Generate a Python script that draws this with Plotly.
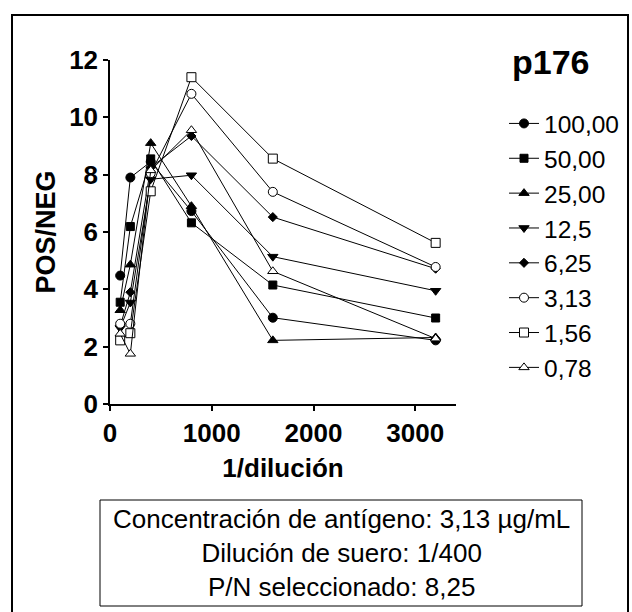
import plotly.graph_objects as go

# ---- data ----
x_dil = [100, 200, 400, 800, 1600, 3200]
series_names = ["100,00", "50,00", "25,00", "12,5", "6,25", "3,13", "1,56", "0,78"]
s100 = [4.48, 7.90, 8.45, 6.73, 3.01, 2.22]
s50 = [3.55, 6.19, 8.55, 6.32, 4.15, 3.00]
s25 = [3.27, 4.86, 9.10, 6.90, 2.22, 2.32]
s12_5 = [2.65, 3.54, 7.84, 7.98, 5.14, 3.95]
s6_25 = [2.72, 3.90, 8.25, 9.35, 6.52, 4.72]
s3_13 = [2.80, 2.80, 8.05, 10.82, 7.40, 4.78]
s1_56 = [2.22, 2.47, 7.42, 11.40, 8.56, 5.62]
s0_78 = [2.45, 1.75, 8.15, 9.55, 4.63, 2.28]
series_values = [s100, s50, s25, s12_5, s6_25, s3_13, s1_56, s0_78]
x_ticks = [0, 1000, 2000, 3000]
y_ticks = [0, 2, 4, 6, 8, 10, 12]
info_lines = ["Concentración de antígeno: 3,13 µg/mL",
              "Dilución de suero: 1/400",
              "P/N seleccionado: 8,25"]

# ---- styles ----
symbols = ["circle", "square", "triangle-up", "triangle-down", "diamond",
           "circle", "square", "triangle-up"]
fills = ["black"] * 5 + ["white"] * 3
sizes = [9, 8, 9, 9, 7, 9, 9, 9]

W, H = 632, 612
L, R, T, B = 110, 176, 60, 208
PW, PH = W - L - R, H - T - B


def px(xp):
    return (xp - L) / PW


def py(yp):
    return (H - B - yp) / PH


FONT = "Liberation Sans, Arial, sans-serif"

fig = go.Figure()
for i, (name, vals) in enumerate(zip(series_names, series_values)):
    fig.add_trace(go.Scatter(
        x=x_dil, y=vals, name=name, mode="lines+markers",
        line=dict(color="black", width=1),
        marker=dict(symbol=symbols[i], size=sizes[i], color=fills[i],
                    line=dict(color="black", width=1)),
    ))

fig.update_layout(
    width=W, height=H,
    margin=dict(l=L, r=R, t=T, b=B, autoexpand=False),
    paper_bgcolor="white", plot_bgcolor="white",
    showlegend=True,
    legend=dict(
        x=px(504), y=py(101), xanchor="left", yanchor="top",
        bgcolor="rgba(0,0,0,0)", borderwidth=0,
        font=dict(family=FONT, size=24.5, color="black"),
        itemwidth=30, tracegroupgap=0,
    ),
    font=dict(family=FONT, color="black"),
    xaxis=dict(
        range=[0, 3400], tickvals=x_ticks, ticktext=[str(v) for v in x_ticks],
        showgrid=False, zeroline=False, showline=True, linecolor="black",
        linewidth=1.5, ticks="outside", ticklen=5, tickwidth=1.5,
        tickcolor="black",
        tickfont=dict(family=FONT, size=26, color="black", weight="bold"),
        title=dict(text="1/dilución", standoff=12,
                   font=dict(family=FONT, size=26, color="black", weight="bold")),
    ),
    yaxis=dict(
        range=[0, 12], tickvals=y_ticks, ticktext=[str(v) for v in y_ticks],
        showgrid=False, zeroline=False, showline=True, linecolor="black",
        linewidth=1.5, ticks="outside", ticklen=5, tickwidth=1.5,
        tickcolor="black",
        tickfont=dict(family=FONT, size=26, color="black", weight="bold"),
        title=dict(text="POS/NEG", standoff=6,
                   font=dict(family=FONT, size=27, color="black", weight="bold")),
    ),
)

# outer frame
fig.add_shape(type="rect", xref="paper", yref="paper",
              x0=px(12), x1=px(628), y0=py(640), y1=py(15),
              line=dict(color="black", width=2), layer="below")
# info box
fig.add_shape(type="rect", xref="paper", yref="paper",
              x0=px(100), x1=px(582), y0=py(606), y1=py(500),
              line=dict(color="black", width=1))
fig.add_annotation(xref="paper", yref="paper", x=px(341), y=py(553),
                   text="<br>".join(info_lines), showarrow=False,
                   xanchor="center", yanchor="middle", align="center",
                   font=dict(family=FONT, size=26, color="black"))
fig.add_annotation(xref="paper", yref="paper", x=px(551), y=py(62),
                   text="p176", showarrow=False, xanchor="center",
                   yanchor="middle",
                   font=dict(family=FONT, size=34, color="black", weight="bold"))

fig.write_html("out.html")
